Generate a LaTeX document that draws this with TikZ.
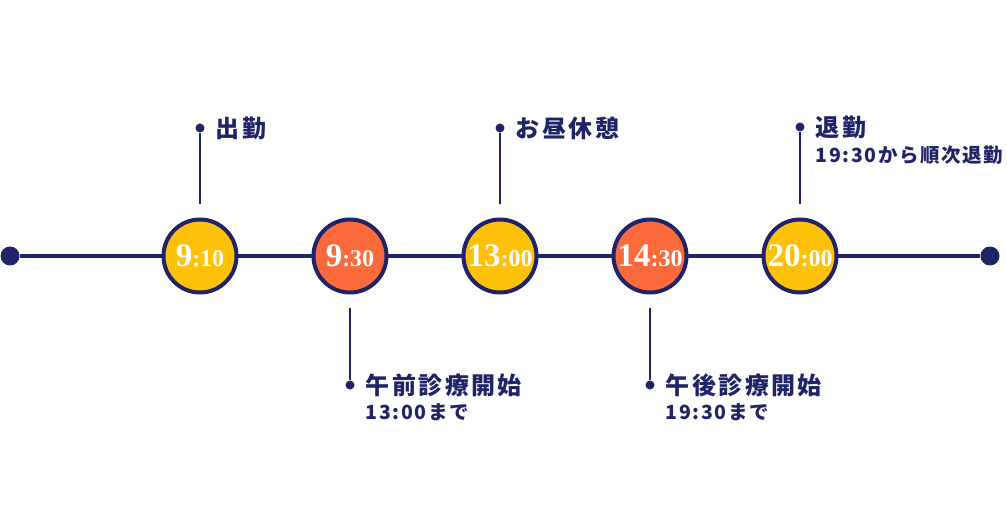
\documentclass[tikz,border=0pt]{standalone}
\usepackage{fontspec}
\setmainfont{Liberation Serif}
\newfontfamily\jp[LetterSpace=10]{Noto Sans CJK JP}
\newfontfamily\jpn[LetterSpace=8]{Noto Sans CJK JP}
\usetikzlibrary{positioning}
\definecolor{navy}{RGB}{31,36,104}
\definecolor{gold}{RGB}{255,193,7}
\definecolor{coral}{RGB}{252,106,60}
\tikzset{
  stop/.style={circle,draw=navy,line width=4pt,minimum size=73pt,inner sep=0pt,text=white,font=\bfseries},
  enddot/.style={circle,fill=navy,inner sep=0pt,minimum size=19pt},
  pin/.style={circle,fill=navy,inner sep=0pt,minimum size=9pt},
  stem/.style={navy,line width=2pt,shorten >=13pt},
  title/.style={text=navy,font=\jp\bfseries\fontsize{24}{24}\selectfont,inner sep=0pt},
  note/.style={text=navy,font=\jpn\bfseries\fontsize{19.5}{19.5}\selectfont,inner sep=0pt}
}
\newcommand{\hm}[2]{{\fontsize{33}{33}\selectfont #1}{\fontsize{24}{24}\selectfont :#2}}
\begin{document}
\begin{tikzpicture}[x=1pt, y=-1pt]
    \useasboundingbox (0,0) rectangle (1007,505);

    \node[enddot] (s) at (10,256) {};
    \node[enddot] (e) at (990,256) {};
    \draw[navy,line width=4pt] (s) -- (e);

    \node[stop,fill=gold] (t1) at (200,256) {\hm{9}{10}};
    \node[stop,fill=coral] (t2) at (350,256) {\hm{9}{30}};
    \node[stop,fill=gold] (t3) at (500,256) {\hm{13}{00}};
    \node[stop,fill=coral] (t4) at (650,256) {\hm{14}{30}};
    \node[stop,fill=gold] (t5) at (800,256) {\hm{20}{00}};

    % pins above
    \node[pin] (p1) at (200,128) {};
    \node[pin] (p3) at (500,128) {};
    \node[pin] (p5) at (800,127) {};
    \draw[stem] (p1) -- (t1);
    \draw[stem] (p3) -- (t3);
    \draw[stem] (p5) -- (t5);

    % pins below
    \node[pin] (p2) at (350,385) {};
    \node[pin] (p4) at (650,385) {};
    \draw[stem] (p2) -- (t2);
    \draw[stem] (p4) -- (t4);

    \node[title,right=11pt of p1] (l1) {出勤};
    \node[title,right=11pt of p3] (l3) {お昼休憩};
    \node[title,right=11pt of p5] (l5) {退勤};
    \node[title,right=11pt of p2] (l2) {午前診療開始};
    \node[title,right=11pt of p4] (l4) {午後診療開始};

    \node[note,below=7pt of l5.south west,anchor=north west] (n5) {19:30から順次退勤};
    \node[note,below=7pt of l2.south west,anchor=north west] (n2) {13:00まで};
    \node[note,below=7pt of l4.south west,anchor=north west] (n4) {19:30まで};
\end{tikzpicture}
\end{document}
